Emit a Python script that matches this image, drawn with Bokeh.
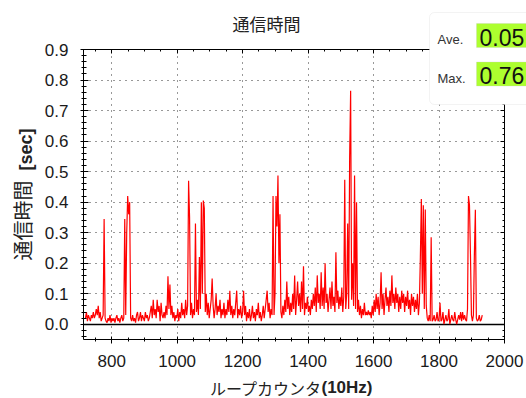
import numpy as np
from bokeh.plotting import figure
from bokeh.models import (LinearAxis, SingleIntervalTicker, NumeralTickFormatter, FixedTicker,
                          CustomJSTickFormatter, Label, BoxAnnotation, Range1d, Grid)
from bokeh.embed import file_html
from bokeh.resources import INLINE

# ---------------- data ----------------
count_start = 720
count_step = 3
comm_time = [
    0.02, 0.04, 0.01, 0.03, 0.02, 0.01, 0.03, 0.02, 0.04, 0.02, 0.03, 0.05, 0.03, 0.06, 0.02, 0.04, 0.01, 0.02, 0.03, 0.345,
    0.02, 0.01, 0.005, 0.02, 0.01, 0.03, 0.005, 0.02, 0.01, 0.02, 0.005, 0.02, 0.03, 0.01, 0.02, 0.005, 0.02, 0.03, 0.01, 0.02,
    0.345, 0.03, 0.30, 0.42, 0.36, 0.40, 0.02, 0.01, 0.03, 0.01, 0.02, 0.005, 0.03, 0.04, 0.01, 0.02, 0.04, 0.01, 0.03, 0.02,
    0.01, 0.04, 0.02, 0.03, 0.01, 0.02, 0.04, 0.06, 0.02, 0.08, 0.03, 0.05, 0.02, 0.08, 0.04, 0.06, 0.01, 0.07, 0.03, 0.02,
    0.04, 0.02, 0.06, 0.03, 0.157, 0.05, 0.13, 0.03, 0.06, 0.02, 0.04, 0.01, 0.03, 0.02, 0.05, 0.01, 0.04, 0.02, 0.07, 0.03,
    0.05, 0.02, 0.08, 0.03, 0.06, 0.47, 0.35, 0.03, 0.07, 0.02, 0.05, 0.03, 0.33, 0.04, 0.08, 0.03, 0.22, 0.05, 0.40, 0.10,
    0.405, 0.38, 0.04, 0.10, 0.03, 0.07, 0.02, 0.05, 0.08, 0.15, 0.06, 0.02, 0.05, 0.10, 0.03, 0.06, 0.04, 0.08, 0.02, 0.05,
    0.03, 0.07, 0.02, 0.05, 0.03, 0.08, 0.04, 0.11, 0.03, 0.06, 0.02, 0.05, 0.03, 0.07, 0.11, 0.02, 0.05, 0.03, 0.06, 0.02,
    0.04, 0.11, 0.03, 0.06, 0.01, 0.04, 0.02, 0.05, 0.01, 0.03, 0.06, 0.02, 0.04, 0.01, 0.05, 0.03, 0.07, 0.02, 0.04, 0.01,
    0.03, 0.06, 0.02, 0.05, 0.08, 0.11, 0.04, 0.07, 0.02, 0.05, 0.03, 0.42, 0.03, 0.10, 0.42, 0.32, 0.487, 0.20, 0.36, 0.04,
    0.02, 0.06, 0.03, 0.08, 0.04, 0.14, 0.05, 0.09, 0.03, 0.07, 0.04, 0.10, 0.05, 0.16, 0.03, 0.08, 0.14, 0.06, 0.10, 0.04,
    0.14, 0.05, 0.19, 0.03, 0.07, 0.05, 0.09, 0.04, 0.06, 0.03, 0.08, 0.05, 0.10, 0.06, 0.12, 0.04, 0.16, 0.07, 0.10, 0.05,
    0.17, 0.06, 0.12, 0.05, 0.20, 0.07, 0.10, 0.04, 0.08, 0.12, 0.05, 0.14, 0.06, 0.09, 0.04, 0.236, 0.07, 0.11, 0.05, 0.09,
    0.06, 0.12, 0.04, 0.09, 0.473, 0.05, 0.10, 0.33, 0.05, 0.547, 0.765, 0.08, 0.20, 0.06, 0.487, 0.05, 0.40, 0.04, 0.08, 0.03,
    0.06, 0.02, 0.05, 0.03, 0.07, 0.03, 0.04, 0.03, 0.045, 0.03, 0.04, 0.02, 0.06, 0.03, 0.08, 0.04, 0.10, 0.05, 0.09, 0.03,
    0.07, 0.17, 0.05, 0.10, 0.03, 0.08, 0.12, 0.06, 0.09, 0.04, 0.11, 0.06, 0.16, 0.07, 0.10, 0.05, 0.12, 0.07, 0.10, 0.04,
    0.09, 0.05, 0.11, 0.07, 0.10, 0.04, 0.09, 0.06, 0.11, 0.05, 0.08, 0.03, 0.10, 0.06, 0.09, 0.04, 0.08, 0.05, 0.10, 0.03,
    0.07, 0.22, 0.41, 0.10, 0.39, 0.05, 0.376, 0.06, 0.02, 0.01, 0.03, 0.01, 0.285, 0.01, 0.015, 0.03, 0.01, 0.015, 0.04, 0.01,
    0.015, 0.07, 0.01, 0.015, 0.04, 0.0, 0.015, 0.03, 0.01, 0.015, 0.05, 0.0, 0.015, 0.03, 0.015, 0.01, 0.04, 0.015, 0.0, 0.015,
    0.03, 0.015, 0.04, 0.01, 0.04, 0.015, 0.03, 0.015, 0.01, 0.05, 0.42, 0.39, 0.23, 0.03, 0.01, 0.03, 0.23, 0.375, 0.02, 0.01,
    0.015, 0.03, 0.01, 0.015, 0.03,
]
loop_count = [count_start + count_step * i for i in range(len(comm_time))]

x_axis_min, x_axis_max = 714, 2000
y_axis_min, y_axis_max = -0.05, 0.9

stat_labels = ["Ave.", "Max."]
stat_values = ["0.05", "0.76"]

title_text = "通信時間"
ylabel_main = "通信時間"
ylabel_unit = "[sec]"
xlabel_main = "ループカウンタ"
xlabel_unit = "(10Hz)"

# ---------------- geometry (canvas pixels) ----------------
CW, CH = 526, 398
PL, PR, PT, PB = 83, 504, 49, 339          # plot box inside the canvas
ux = (x_axis_max - x_axis_min) / (PR - PL)
uy = (y_axis_max - y_axis_min) / (PB - PT)
x_start = x_axis_min - PL * ux
x_end = x_axis_max + (CW - PR) * ux
y_end = y_axis_max + PT * uy
y_start = y_axis_min - (CH - PB) * uy


def sx(cx):
    return x_start + cx * ux


def sy(cy):
    return y_end - cy * uy


p = figure(width=CW, height=CH, min_border=0,
           x_range=Range1d(x_start, x_end), y_range=Range1d(y_start, y_end),
           x_axis_type=None, y_axis_type=None,
           output_backend="svg", toolbar_location=None)
p.title.visible = False
p.outline_line_color = None
p.background_fill_color = "white"
p.border_fill_color = "white"

xt = SingleIntervalTicker(interval=200, num_minor_ticks=4)
yt = SingleIntervalTicker(interval=0.1, num_minor_ticks=5)

TICK_FONT = "Liberation Sans"
CJK = "Noto Sans CJK JP"
blank = CustomJSTickFormatter(code="return ''")

xb = (x_axis_min, x_axis_max)
yb = (y_axis_min, y_axis_max)
bottom = LinearAxis(ticker=xt, fixed_location=y_axis_min, bounds=xb)
left = LinearAxis(ticker=yt, formatter=NumeralTickFormatter(format="0.0"),
                  fixed_location=x_axis_min, bounds=yb)
top = LinearAxis(ticker=xt, formatter=blank, fixed_location=y_axis_max, bounds=xb)
right = LinearAxis(ticker=yt, formatter=blank, fixed_location=x_axis_max, bounds=yb)

for ax in (bottom, left, top, right):
    ax.axis_line_color = "black"
    ax.axis_line_width = 1
    ax.major_tick_line_color = "black"
    ax.minor_tick_line_color = "black"
    ax.major_label_text_font = TICK_FONT
    ax.major_label_text_color = "#1a1a1a"

bottom.major_tick_in, bottom.major_tick_out = 3, 4
bottom.minor_tick_in, bottom.minor_tick_out = 2, 2
bottom.major_label_text_font_size = "17px"
bottom.major_label_standoff = 11

left.major_tick_in, left.major_tick_out = 5, 3
left.minor_tick_in, left.minor_tick_out = 3, 2
left.major_label_text_font_size = "17px"
left.major_label_standoff = 12

for ax in (top, right):
    ax.major_tick_in, ax.major_tick_out = 4, 0
    ax.minor_tick_in, ax.minor_tick_out = 2, 0
    ax.major_label_standoff = 0

p.add_layout(bottom, "below")
p.add_layout(left, "left")
p.add_layout(top, "above")
p.add_layout(right, "right")

gx = Grid(dimension=0, ticker=xt, bounds=xb, cross_bounds=yb)
gy = Grid(dimension=1, ticker=yt, bounds=yb, cross_bounds=xb)
for g in (gx, gy):
    g.grid_line_color = "#333333"
    g.grid_line_dash = "1 5"
    g.grid_line_width = 1
    p.add_layout(g)

zero_line = Grid(dimension=1, ticker=FixedTicker(ticks=[0.0]), cross_bounds=xb)
zero_line.grid_line_color = "black"
zero_line.grid_line_width = 1.5
p.add_layout(zero_line)

p.line(loop_count, comm_time, line_color="#ff0000", line_width=1.2)

# ---------------- texts ----------------
p.add_layout(Label(x=sx(266), y=sy(23), text=title_text, text_align="center",
                   text_baseline="middle", text_font=CJK, text_font_size="17px",
                   text_color="#222222"))

p.add_layout(Label(x=sx(21.5), y=sy(220), text=ylabel_main, angle=np.pi / 2,
                   text_align="center", text_baseline="middle", text_font=CJK,
                   text_font_size="20px", text_color="#222222"))
p.add_layout(Label(x=sx(25), y=sy(149), text=ylabel_unit, angle=np.pi / 2,
                   text_align="center", text_baseline="middle", text_font=TICK_FONT,
                   text_font_style="bold", text_font_size="18px", text_color="#222222"))

p.add_layout(Label(x=sx(265.5), y=sy(387), text=xlabel_main, text_align="center",
                   text_baseline="middle", text_font=CJK, text_font_size="16px",
                   text_color="#222222"))
p.add_layout(Label(x=sx(346.5), y=sy(387), text=xlabel_unit, text_align="center",
                   text_baseline="middle", text_font=TICK_FONT, text_font_style="bold",
                   text_font_size="17px", text_color="#222222"))

# ---------------- stats panel ----------------
p.add_layout(BoxAnnotation(left=sx(429), right=sx(540), top=sy(12), bottom=sy(104),
                           fill_color="white", fill_alpha=1.0, line_color="#d6d6d6",
                           line_width=1, border_radius=5))
rows_cy = [35, 73.5]
for lab, val, cy in zip(stat_labels, stat_values, rows_cy):
    p.add_layout(BoxAnnotation(left=sx(476), right=sx(540), top=sy(cy - 12), bottom=sy(cy + 12),
                               fill_color="#adff2f", fill_alpha=1.0, line_color="#c8c8c8",
                               line_width=1))
    p.add_layout(Label(x=sx(437), y=sy(cy + 4), text=lab, text_align="left",
                       text_baseline="middle", text_font=TICK_FONT, text_font_size="13px",
                       text_color="#333333"))
    p.add_layout(Label(x=sx(479), y=sy(cy + 1.5), text=val, text_align="left",
                       text_baseline="middle", text_font=TICK_FONT, text_font_size="23px",
                       text_color="#111111"))

open("out.html", "w").write(file_html(p, INLINE))
